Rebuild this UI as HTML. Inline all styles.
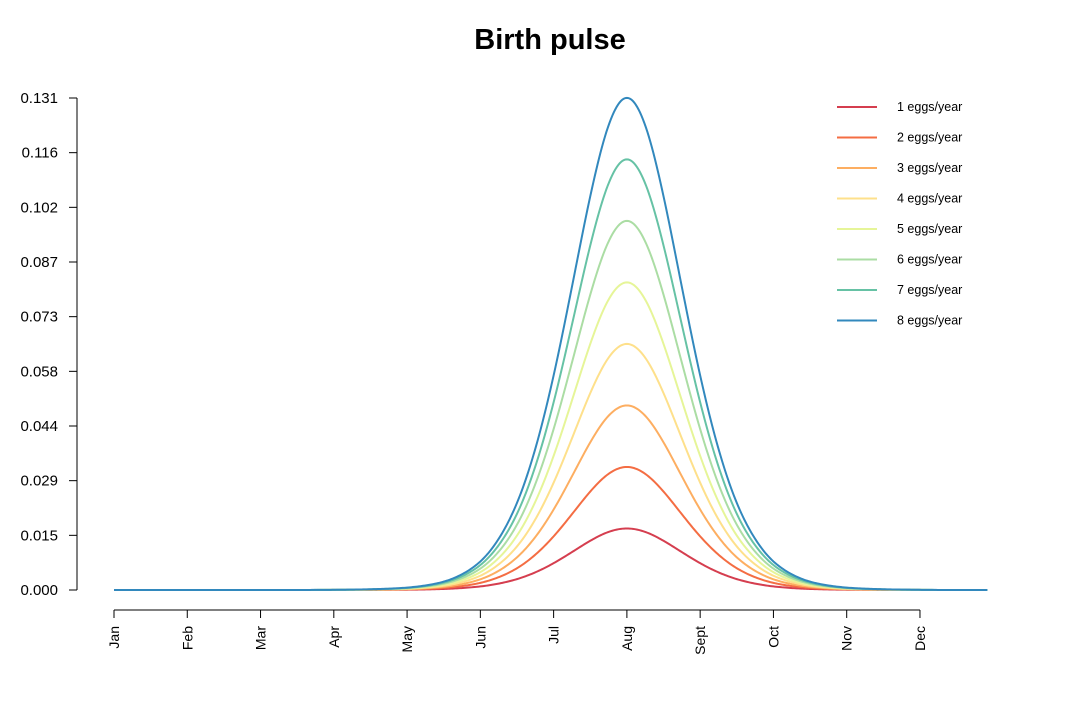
<!DOCTYPE html>
<html><head><meta charset="utf-8"><style>
body{margin:0;background:#fff;font-family:"Liberation Sans",sans-serif;}
svg text{font-family:"Liberation Sans",sans-serif;}
</style></head><body>
<svg id="c" width="1080" height="706" viewBox="0 0 1080 706">
<text x="550" y="49" text-anchor="middle" font-size="29" font-weight="bold">Birth pulse</text>
<g id="yaxis"></g>
<g id="xaxis"></g>
<g id="series"></g>
<g id="legend"></g>
</svg>
<script>
const months = ["Jan","Feb","Mar","Apr","May","Jun","Jul","Aug","Sept","Oct","Nov","Dec"];
const yTicks = ["0.000","0.015","0.029","0.044","0.058","0.073","0.087","0.102","0.116","0.131"];
const seriesNames = ["1 eggs/year","2 eggs/year","3 eggs/year","4 eggs/year","5 eggs/year","6 eggs/year","7 eggs/year","8 eggs/year"];
const eggs = [1,2,3,4,5,6,7,8];
const peakPerEgg = 0.01638;
const peakMonth = 7;
// pulse shape (relative), offsets in months from peak
const pulseOffsets = [-7,-5,-4,-3.5,-3,-2.75,-2.5,-2.25,-2,-1.75,-1.5,-1.25,-1,-0.75,-0.5,-0.25,0,0.25,0.5,0.75,1,1.25,1.5,1.75,2,2.25,2.5,2.75,3,3.5,4,4.93];
const pulseValues = [0.000001,0.00001,0.0004,0.0015,0.0049,0.0092,0.017,0.032,0.058,0.104,0.177,0.287,0.436,0.616,0.80,0.944,1,0.944,0.80,0.616,0.436,0.287,0.177,0.104,0.058,0.032,0.017,0.0092,0.0049,0.0015,0.0004,0.000001];
const colors = ["#D53E4F","#F46D43","#FDAE61","#FEE08B","#E6F598","#ABDDA4","#66C2A5","#3288BD"];

const NS="http://www.w3.org/2000/svg";
const x = m => 114 + m*73.27;
const yMax = 0.131;
const y = v => 590 - v/yMax*492;
function mk(tag, attrs, parent){const e=document.createElementNS(NS,tag);for(const k in attrs)e.setAttribute(k,attrs[k]);parent.appendChild(e);return e;}

const ya=document.getElementById('yaxis');
let l=mk('line',{x1:77,x2:77,y1:y(yMax),y2:590,stroke:'#000','stroke-width':1},ya);


yTicks.forEach((t,i)=>{
  const v=yMax*i/9, yy=y(v);
  const tk=mk('line',{x1:69,x2:77,y1:yy,y2:yy,stroke:'#000'},ya);
  
  
  const tx=mk('text',{x:58,y:yy+5,'text-anchor':'end','font-size':15},ya);
  tx.textContent=t;
  
  
});
const xa=document.getElementById('xaxis');
l=mk('line',{x1:x(0),x2:x(11),y1:610,y2:610,stroke:'#000'},xa);


months.forEach((m,i)=>{
  const xx=x(i);
  const tk=mk('line',{x1:xx,x2:xx,y1:610,y2:618,stroke:'#000'},xa);
  
  
  const tx=mk('text',{x:0,y:0,'text-anchor':'end','font-size':14,transform:`translate(${xx+5},626) rotate(-90)`},xa);
  tx.textContent=m;
  
  
});

// cubic interpolation in log space
function spline(xs,ys){
  const n=xs.length,d=[],m=new Array(n);
  for(let i=0;i<n-1;i++)d.push((ys[i+1]-ys[i])/(xs[i+1]-xs[i]));
  m[0]=d[0];m[n-1]=d[n-2];
  for(let i=1;i<n-1;i++){m[i]=(d[i-1]*(xs[i+1]-xs[i])+d[i]*(xs[i]-xs[i-1]))/(xs[i+1]-xs[i-1]);}
  return t=>{let i=0;while(i<n-2&&t>xs[i+1])i++;const h=xs[i+1]-xs[i],u=(t-xs[i])/h;
    const h00=2*u*u*u-3*u*u+1,h10=u*u*u-2*u*u+u,h01=-2*u*u*u+3*u*u,h11=u*u*u-u*u;
    return h00*ys[i]+h10*h*m[i]+h01*ys[i+1]+h11*h*m[i+1];};
}
const logShape=spline(pulseOffsets.map(o=>o+peakMonth),pulseValues.map(v=>Math.log(v)));
const shape=t=>Math.min(1,Math.exp(logShape(t)));
const sg=document.getElementById('series');
eggs.forEach((e,si)=>{
  let d='';
  for(let t=0;t<=11.93;t+=0.02){const v=Math.max(0,e*peakPerEgg*shape(t));d+=(d?'L':'M')+x(t).toFixed(2)+','+y(v).toFixed(2);}
  const p=mk('path',{d:d,fill:'none',stroke:colors[si],'stroke-width':2},sg);
  
  
});
const lg=document.getElementById('legend');
seriesNames.forEach((s,i)=>{
  const yy=107+i*30.5;
  const ln=mk('line',{x1:837,x2:877,y1:yy,y2:yy,stroke:colors[i],'stroke-width':2},lg);
  
  
  const tx=mk('text',{x:897,y:yy+4,'font-size':12.5},lg);
  tx.textContent=s;
  
  
});
</script>
</body></html>
